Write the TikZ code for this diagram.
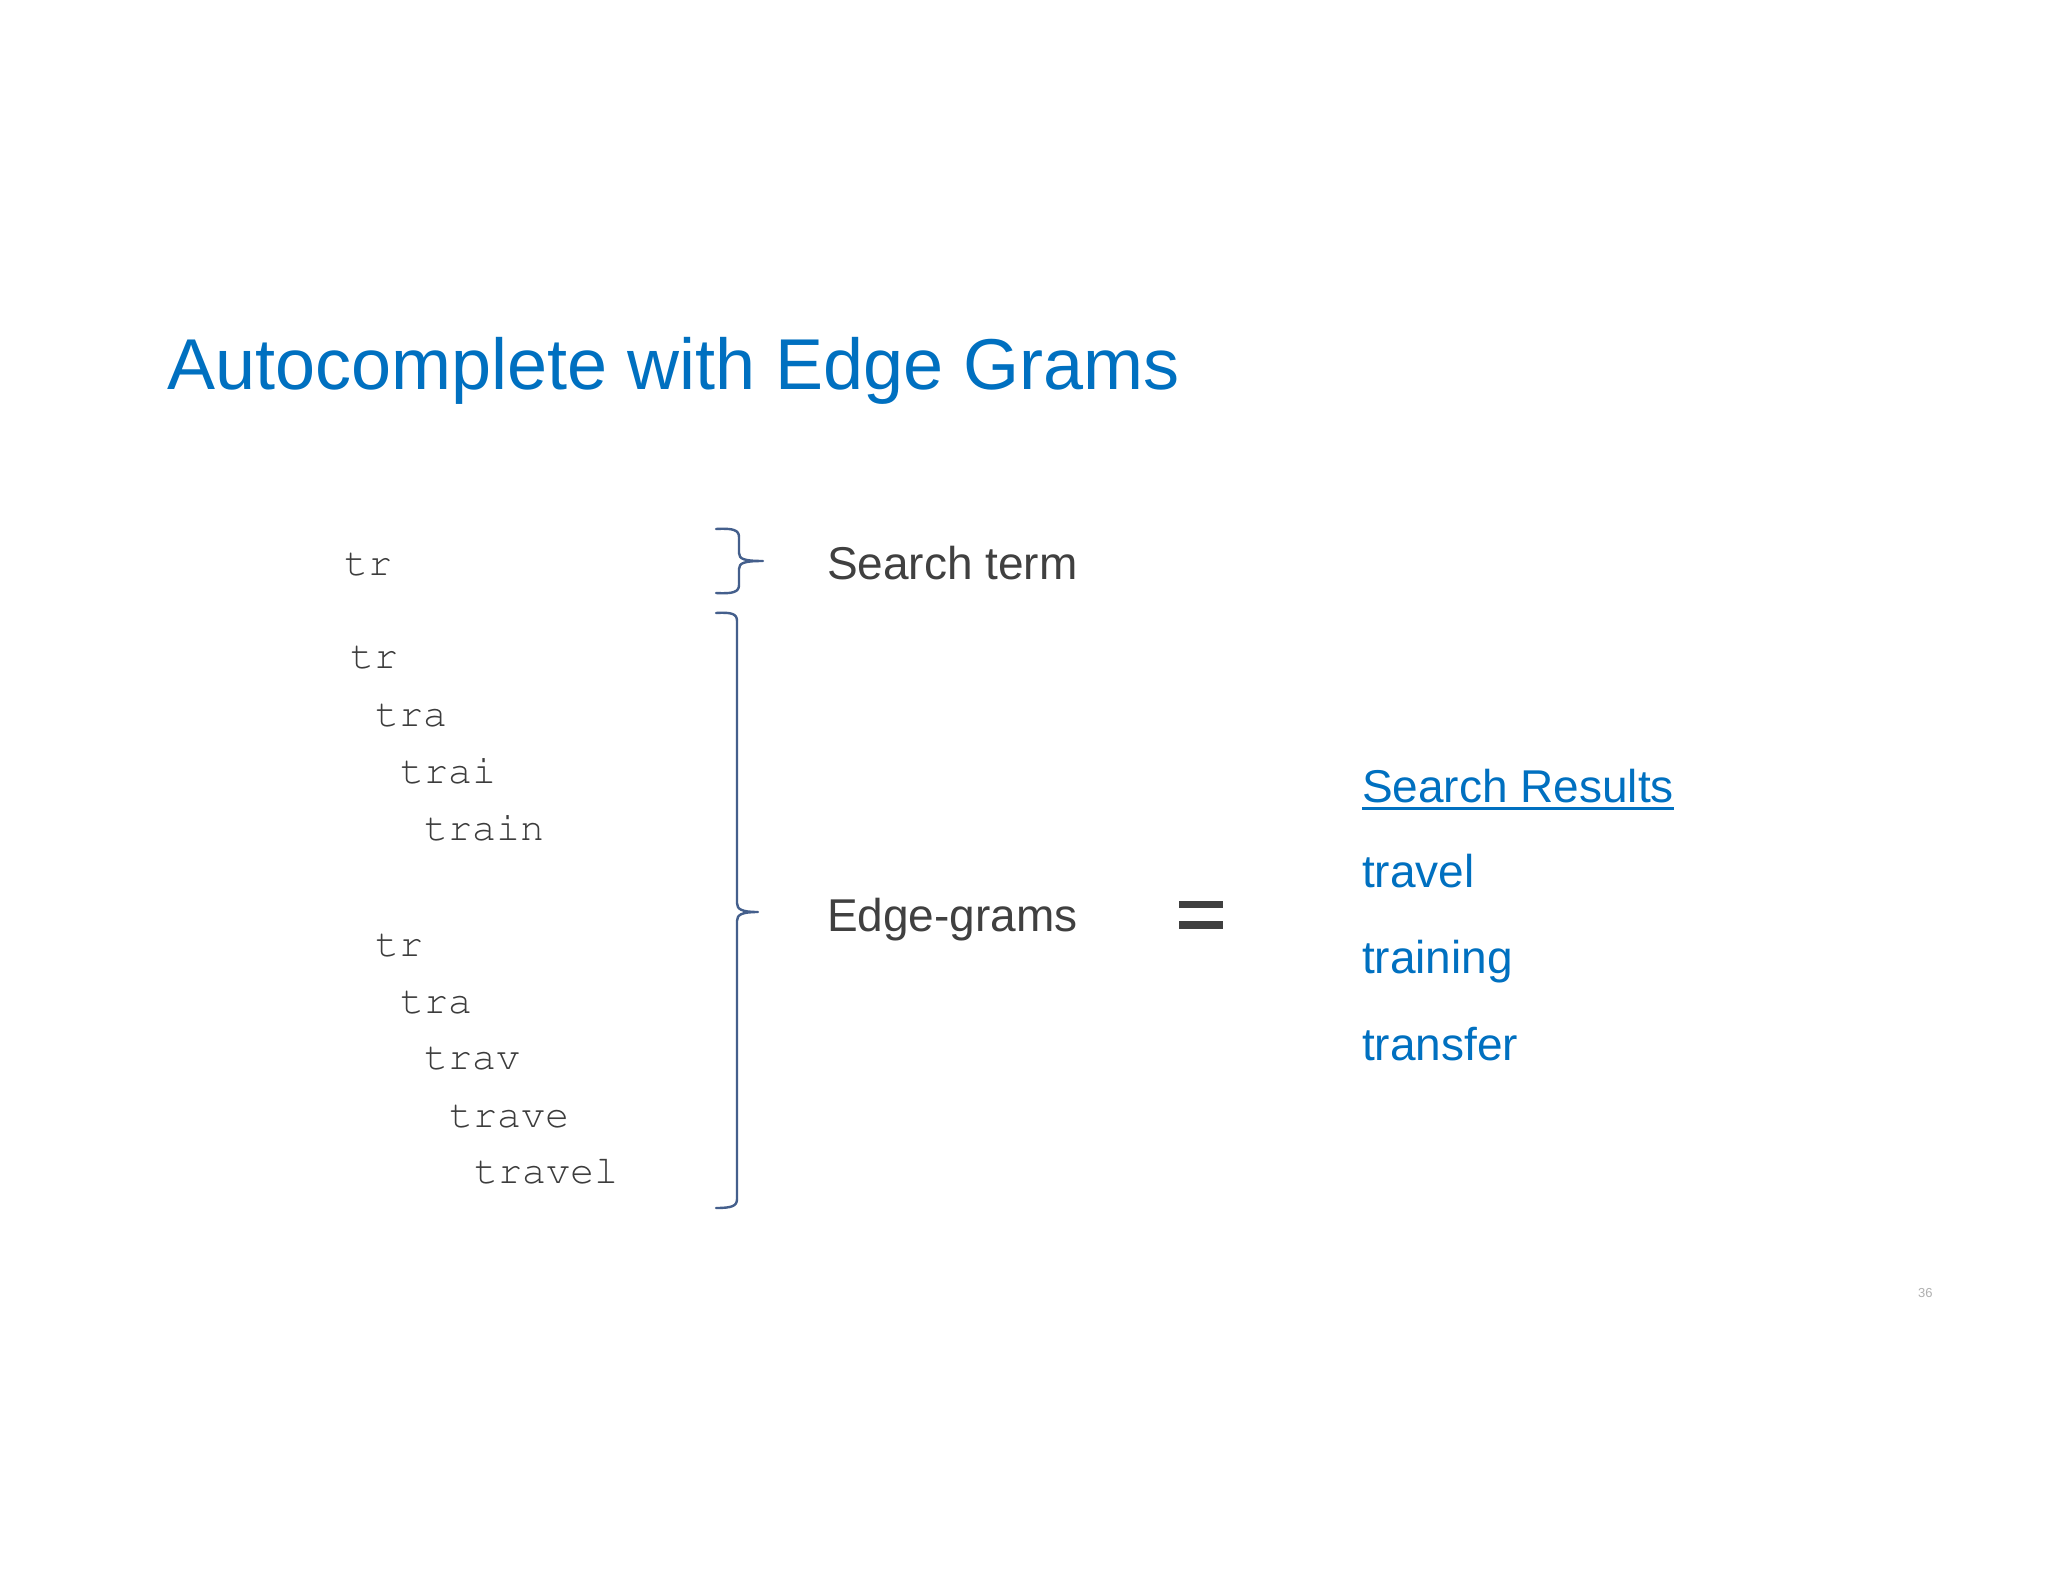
\documentclass[tikz,border=0pt]{standalone}
\usepackage[T1]{fontenc}
\usepackage{fontspec}
\setmainfont{Liberation Sans}
\newcommand{\gramfont}{\fontencoding{T1}\fontfamily{pcr}\fontseries{m}\fontshape{n}}
\usetikzlibrary{calc}
\definecolor{titleblue}{RGB}{0,112,192}
\definecolor{textgray}{RGB}{64,64,64}
\definecolor{monogray}{RGB}{60,60,60}
\definecolor{bracecol}{RGB}{68,95,140}
\definecolor{pagegray}{RGB}{175,175,175}
\begin{document}
\begin{tikzpicture}[x=0.5pt,y=-0.5pt,
  every node/.style={inner sep=0pt,outer sep=0pt,anchor=base west},
  titletext/.style={text=titleblue,font=\fontsize{36}{40}\selectfont},
  labeltext/.style={text=textgray,font=\fontsize{23}{27}\selectfont},
  resulttext/.style={text=titleblue,font=\fontsize{23}{27}\selectfont},
  gramtext/.style={text=monogray,font=\gramfont\fontsize{20}{24}\selectfont},
  bracepath/.style={draw=bracecol,line width=1.2pt,line cap=round,line join=round},
  eqbar/.style={fill=textgray},
  pagenum/.style={text=pagegray,font=\fontsize{6.5}{8}\selectfont}]
\useasboundingbox[fill=white] (0,0) rectangle (2048,1582);

% title
\node[titletext] (title) at (167,390) {Autocomplete with Edge Grams};

% search term
\node[gramtext] (st) at (344,575) {tr};

% edge grams
\node[gramtext] (g1) at (350,668) {tr};
\node[gramtext] (g2) at (375,726) {tra};
\node[gramtext] (g3) at (400,783) {trai};
\node[gramtext] (g4) at (424,840) {train};
\node[gramtext] (g5) at (375,956) {tr};
\node[gramtext] (g6) at (400,1013) {tra};
\node[gramtext] (g7) at (424,1069) {trav};
\node[gramtext] (g8) at (449,1127) {trave};
\node[gramtext] (g9) at (474,1183) {travel};

% braces
\draw[bracepath] (716,529) .. controls (733,528) and (739,530) .. (739,537)
  -- (739,553) .. controls (739,559) and (744,561) .. (763,561)
  .. controls (744,561) and (739,563) .. (739,569)
  -- (739,585) .. controls (739,592) and (733,594) .. (716,593);
\draw[bracepath] (716,613) .. controls (732,612) and (737,614) .. (737,621)
  -- (737,903) .. controls (737,909) and (741,912) .. (758,912)
  .. controls (741,912) and (737,915) .. (737,921)
  -- (737,1199) .. controls (737,1206) and (732,1208) .. (716,1208);

% labels
\node[labeltext] (lst) at (827,580) {Search term};
\node[labeltext] (leg) at (827,931) {Edge-grams};

% equals sign
\fill[eqbar] (1179,901) rectangle (1223,908);
\fill[eqbar] (1179,921) rectangle (1223,929);

% results
\node[resulttext] (sr) at (1362,802) {Search Results};
\draw[titleblue,line width=1.5pt] ($(sr.base west)+(0,6)$) -- ($(sr.base east)+(0,6)$);
\node[resulttext] (r1) at (1362,887) {travel};
\node[resulttext] (r2) at (1362,973) {training};
\node[resulttext] (r3) at (1362,1060) {transfer};

% page number
\node[pagenum] (pn) at (1918,1297) {36};
\end{tikzpicture}
\end{document}
